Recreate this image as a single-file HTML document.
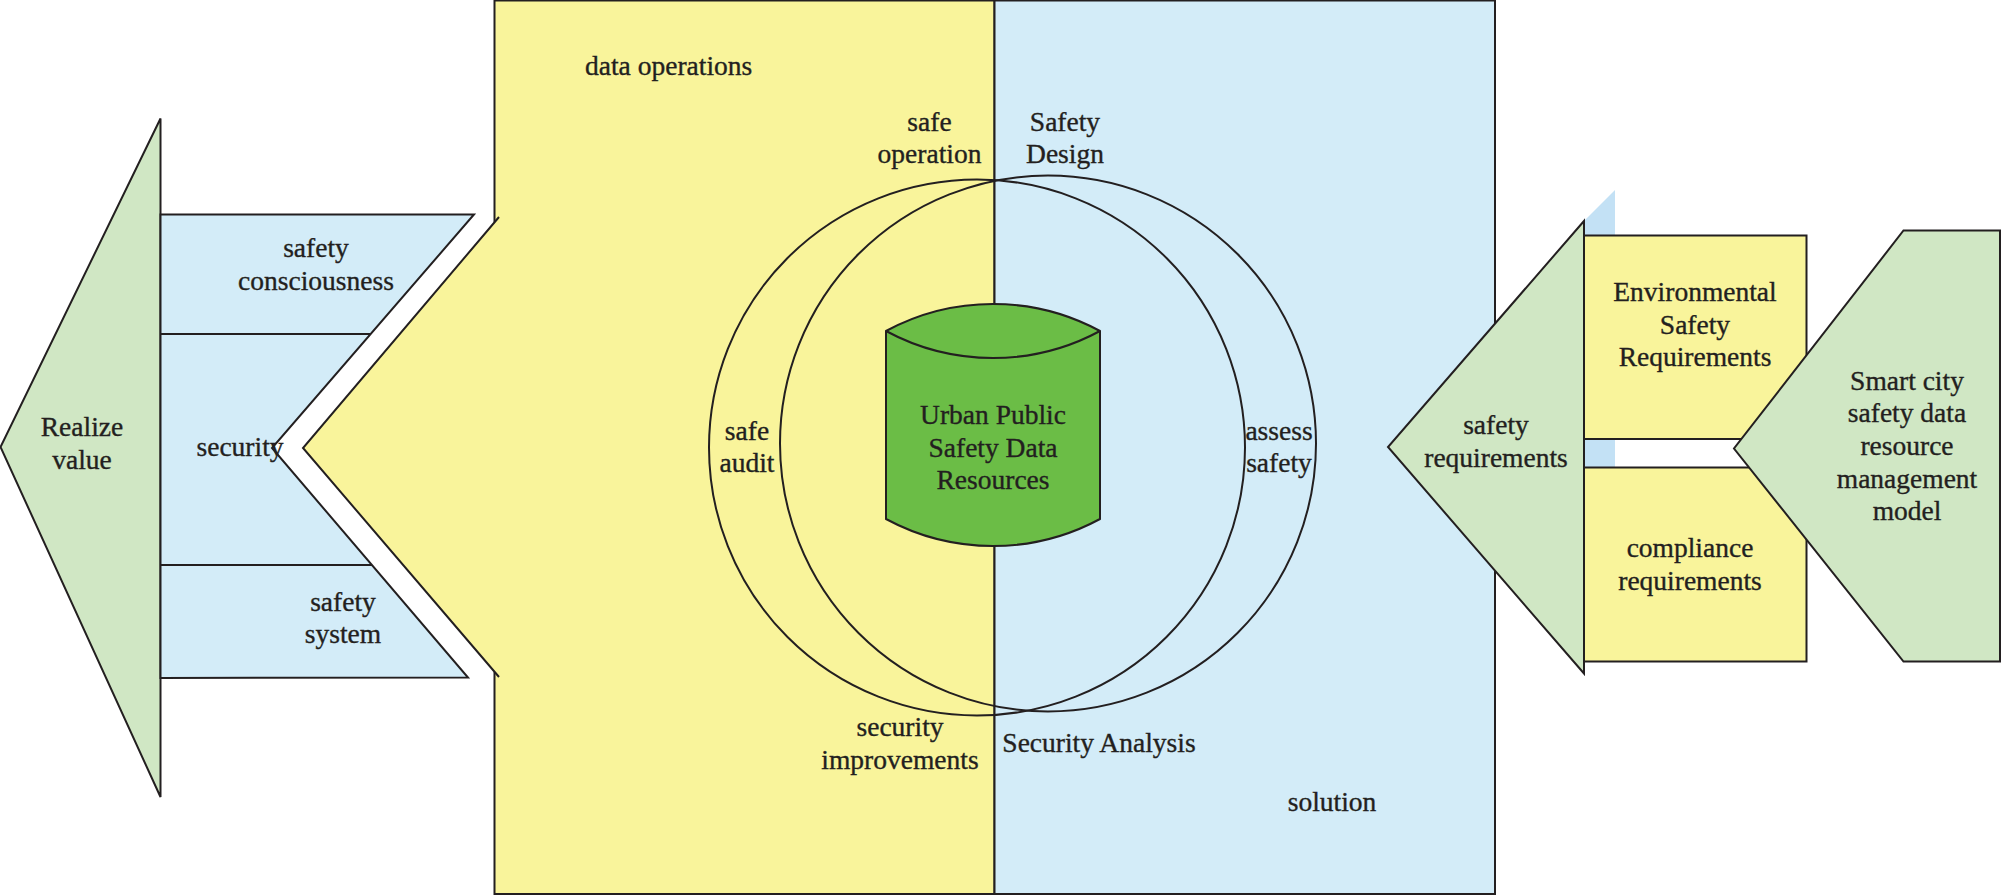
<!DOCTYPE html>
<html><head><meta charset="utf-8"><style>
html,body{margin:0;padding:0;background:#fff;}
svg{display:block;}
text{font-family:"Liberation Serif",serif;font-size:27.5px;fill:#231f20;stroke:#231f20;stroke-width:0.35px;}
</style></head><body>
<svg width="2001" height="895" viewBox="0 0 2001 895">
<g stroke="#231f20" stroke-width="2" stroke-linejoin="miter">
<!-- left green arrow -->
<polygon points="160.5,118.5 0.5,447 160.5,797" fill="#d0e7c4"/>
<!-- left blue shape -->
<polygon points="160.5,214.5 474,214.5 272,448 468,677.5 160.5,678" fill="#d3ecf8"/>
<line x1="160.5" y1="334" x2="370.5" y2="334"/>
<line x1="160.5" y1="565" x2="372" y2="565"/>
<!-- big rectangles -->
<polygon points="494.5,0.5 994.5,0.5 994.5,894 494.5,894 494.5,672 303,448 494.5,222" fill="#f9f49b" stroke="none"/>
<polyline points="494.5,222 494.5,0.5 994.5,0.5 994.5,894 494.5,894 494.5,672" fill="none"/>
<polyline points="499,217 303,448 499,677" fill="none" stroke-linejoin="miter"/>
<rect x="994.5" y="0.5" width="500.5" height="893.5" fill="#d3ecf8"/>
<!-- circles -->
<circle cx="977" cy="447.5" r="268" fill="none"/>
<circle cx="1048" cy="443.5" r="268" fill="none"/>
<!-- cylinder -->
<path d="M886,331 A225.5,225.5 0 0 1 1100,331 L1100,519 A225.5,225.5 0 0 1 886,519 Z" fill="#6bbd46"/>
<path d="M886,331 A225.5,225.5 0 0 0 1100,331" fill="none"/>
<!-- right side -->
<polygon points="1584,221 1615,190 1615,470 1584,470" fill="#c3e1f5" stroke="none"/>
<rect x="1584" y="235.5" width="222.5" height="203.5" fill="#f9f49b"/>
<rect x="1584" y="467.5" width="222.5" height="194" fill="#f9f49b"/>
<polygon points="1584,221 1388,447 1584,673.5" fill="#d0e7c4"/>
<polygon points="1903.5,230.5 2000,230.5 2000,661.5 1903.5,661.5 1734,448.5" fill="#d0e7c4"/>
</g>
<g text-anchor="middle" transform="translate(0,0.6)">
<text x="585" y="74" text-anchor="start">data operations</text>
<text x="929.5" y="130">safe</text><text x="929.5" y="162.5">operation</text>
<text x="1065" y="130">Safety</text><text x="1065" y="162.5">Design</text>
<text x="316" y="256.6">safety</text><text x="316" y="289.4">consciousness</text>
<text x="82" y="435">Realize</text><text x="82" y="468">value</text>
<text x="240" y="455.3">security</text>
<text x="343" y="610">safety</text><text x="343" y="642.5">system</text>
<text x="747" y="439">safe</text><text x="747" y="471.5">audit</text>
<text x="993" y="423">Urban Public</text><text x="993" y="456">Safety Data</text><text x="993" y="488.5">Resources</text>
<text x="1279" y="439">assess</text><text x="1279" y="471.5">safety</text>
<text x="900" y="735.6">security</text><text x="900" y="768.4">improvements</text>
<text x="1099" y="751">Security Analysis</text>
<text x="1332" y="810">solution</text>
<text x="1496" y="433">safety</text><text x="1496" y="466">requirements</text>
<text x="1695" y="300">Environmental</text><text x="1695" y="333">Safety</text><text x="1695" y="365">Requirements</text>
<text x="1690" y="556">compliance</text><text x="1690" y="589">requirements</text>
<text x="1907" y="389">Smart city</text><text x="1907" y="421">safety data</text><text x="1907" y="454">resource</text><text x="1907" y="487">management</text><text x="1907" y="519">model</text>
</g>
</svg>
</body></html>
